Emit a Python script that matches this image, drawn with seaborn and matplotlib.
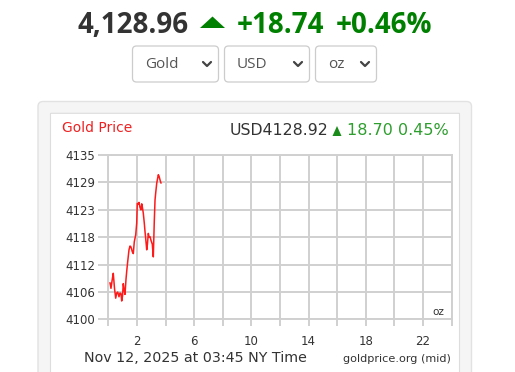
import matplotlib
matplotlib.use("Agg")
import matplotlib.pyplot as plt
import seaborn as sns
import numpy as np
from matplotlib.patches import FancyBboxPatch, Polygon
from matplotlib.lines import Line2D

# ---------------- data ----------------
hours = [0.11, 0.18, 0.27, 0.34, 0.43, 0.51, 0.58, 0.65, 0.74, 0.81, 0.88, 0.93,
         0.99, 1.04, 1.09, 1.16, 1.23, 1.28, 1.35, 1.44, 1.51, 1.56, 1.62, 1.67,
         1.74, 1.81, 1.91, 1.98, 2.02, 2.09, 2.14, 2.21, 2.28, 2.33, 2.37, 2.44,
         2.51, 2.56, 2.63, 2.68, 2.73, 2.79, 2.85, 2.91, 2.98, 3.07, 3.14, 3.21,
         3.26, 3.31, 3.38, 3.49, 3.54, 3.61, 3.68]
prices = [4107.8, 4106.6, 4108.5, 4109.8, 4106.5, 4104.5, 4105.6, 4105.8, 4104.8,
          4105.6, 4105.5, 4103.9, 4105.0, 4107.6, 4106.5, 4105.3, 4108.5, 4110.2,
          4112.3, 4114.8, 4115.6, 4115.5, 4115.0, 4114.4, 4114.0, 4116.5, 4118.0,
          4120.5, 4124.7, 4124.5, 4124.9, 4123.8, 4123.3, 4124.6, 4124.0, 4122.6,
          4120.5, 4118.7, 4116.5, 4114.8, 4116.0, 4118.3, 4117.5, 4117.6, 4116.8,
          4116.0, 4113.3, 4121.0, 4125.4, 4127.0, 4129.0, 4130.8, 4130.5, 4129.7,
          4129.0]
x_ticks = list(range(0, 25, 2))
x_labels = ["", "2", "", "6", "", "10", "", "14", "", "18", "", "22", ""]
y_ticks = list(np.linspace(4100, 4135, 7))
y_labels = ["4100", "4106", "4112", "4118", "4123", "4129", "4135"]

header_price = "4,128.96"
header_change = "+18.74"
header_pct = "+0.46%"
dropdowns = ["Gold", "USD", "oz"]
chart_title = "Gold Price"
chart_price = "USD4128.92"
chart_change = "18.70 0.45%"
date_text = "Nov 12, 2025 at 03:45 NY Time"
source_text = "goldprice.org (mid)"
unit_text = "oz"

# ---------------- figure ----------------
sns.set_theme(style="white")
plt.rcParams['font.family'] = ['DejaVu Sans']

W, H = 515, 372
fig = plt.figure(figsize=(W / 100, H / 100), dpi=100)
fig.patch.set_facecolor("white")


def fx(x):
    return x / W


def fy(y):
    return 1 - y / H


def rbox(x0, y0, x1, y1, r, fc, ec, lw=1.0, z=0):
    p = FancyBboxPatch(((x0) / 100, (H - y1) / 100), (x1 - x0) / 100, (y1 - y0) / 100,
                       boxstyle=f"round,pad=0,rounding_size={r/100}",
                       transform=fig.dpi_scale_trans, facecolor=fc, edgecolor=ec,
                       linewidth=lw, zorder=z)
    fig.patches.append(p)


# cards
rbox(38, 101.5, 471.5, 390, 5, "#f5f5f5", "#e2e2e2", 1.0, z=-2)
rbox(50.5, 113.3, 459.5, 390, 0.5, "white", "#dddddd", 0.8, z=-1)

# header
GREEN = "#008000"
HFONT = "Open Sans"
fig.text(fx(78), fy(25.5), header_price, fontsize=20, fontweight="bold",
         family=HFONT, color="#333333", ha="left", va="center")
tri = Polygon([[fx(200), fy(28)], [fx(225), fy(28)], [fx(212.5), fy(16.5)]],
              closed=True, transform=fig.transFigure, facecolor=GREEN,
              edgecolor="none")
fig.patches.append(tri)
fig.text(fx(237), fy(25.5), header_change, fontsize=20, fontweight="bold",
         family=HFONT, color=GREEN, ha="left", va="center")
fig.text(fx(336), fy(25.5), header_pct, fontsize=20, fontweight="bold",
         family=HFONT, color=GREEN, ha="left", va="center")

# dropdowns
boxes = [(132.5, 218.5), (224.5, 309.5), (315.5, 376.5)]
for (x0, x1), lab in zip(boxes, dropdowns):
    rbox(x0, 46, x1, 82, 4, "white", "#cccccc", 0.9)
    fig.text(fx(x0 + 12.5), fy(64.5), lab, fontsize=11, family="Open Sans",
             color="#555555", ha="left", va="center")
    cx = x1 - 11.5
    fig.lines.append(Line2D([fx(cx - 4), fx(cx), fx(cx + 4)],
                            [fy(62), fy(66), fy(62)], transform=fig.transFigure,
                            color="#444444", linewidth=1.6))

# chart texts
fig.text(fx(62), fy(128.5), chart_title, fontsize=10, color="#ee2222",
         ha="left", va="center")
fig.text(fx(230), fy(130.5), chart_price, fontsize=11.3, color="#333333",
         ha="left", va="center")
tri2 = Polygon([[fx(332.5), fy(136)], [fx(341.5), fy(136)], [fx(337), fy(126)]],
               closed=True, transform=fig.transFigure, facecolor="#1a8c1a",
               edgecolor="none")
fig.patches.append(tri2)
fig.text(fx(347), fy(130.5), chart_change, fontsize=11.5, color="#2e9e2e",
         ha="left", va="center")
fig.text(fx(84), fy(358.5), date_text, fontsize=10.3, color="#333333",
         ha="left", va="center")
fig.text(fx(451), fy(359), source_text, fontsize=8.15, color="#333333",
         ha="right", va="center")

# axes
L, R, T, B = 108.4, 451.6, 155, 319.3
ax = fig.add_axes([fx(L), fy(B), (R - L) / W, (B - T) / H])
ax.set_zorder(5)
ax.set_facecolor("none")
sns.lineplot(x=hours, y=prices, ax=ax, color="#ff1a1a", linewidth=1.1)
ax.set_xlim(0, 24)
ax.set_ylim(4100, 4135)
GRID = "#d0d0d0"
ax.set_xticks(x_ticks)
ax.set_xticklabels(x_labels)
ax.set_yticks(y_ticks)
ax.set_yticklabels(y_labels)
ax.grid(True, color=GRID, linewidth=1.4)
for s in ax.spines.values():
    s.set_color(GRID)
    s.set_linewidth(1.4)
ax.tick_params(axis="x", length=5, width=1.4, color=GRID, pad=6,
               labelsize=8.5, labelcolor="#333333", bottom=True)
ax.tick_params(axis="y", length=7.5, width=1.4, color=GRID, pad=2,
               labelsize=8.5, labelcolor="#333333", left=True)
ax.set_axisbelow(True)
ax.text(23.05, 4101.6, unit_text, fontsize=7.5, color="#333333",
        ha="center", va="center")

fig.savefig("out.png", dpi=100)
